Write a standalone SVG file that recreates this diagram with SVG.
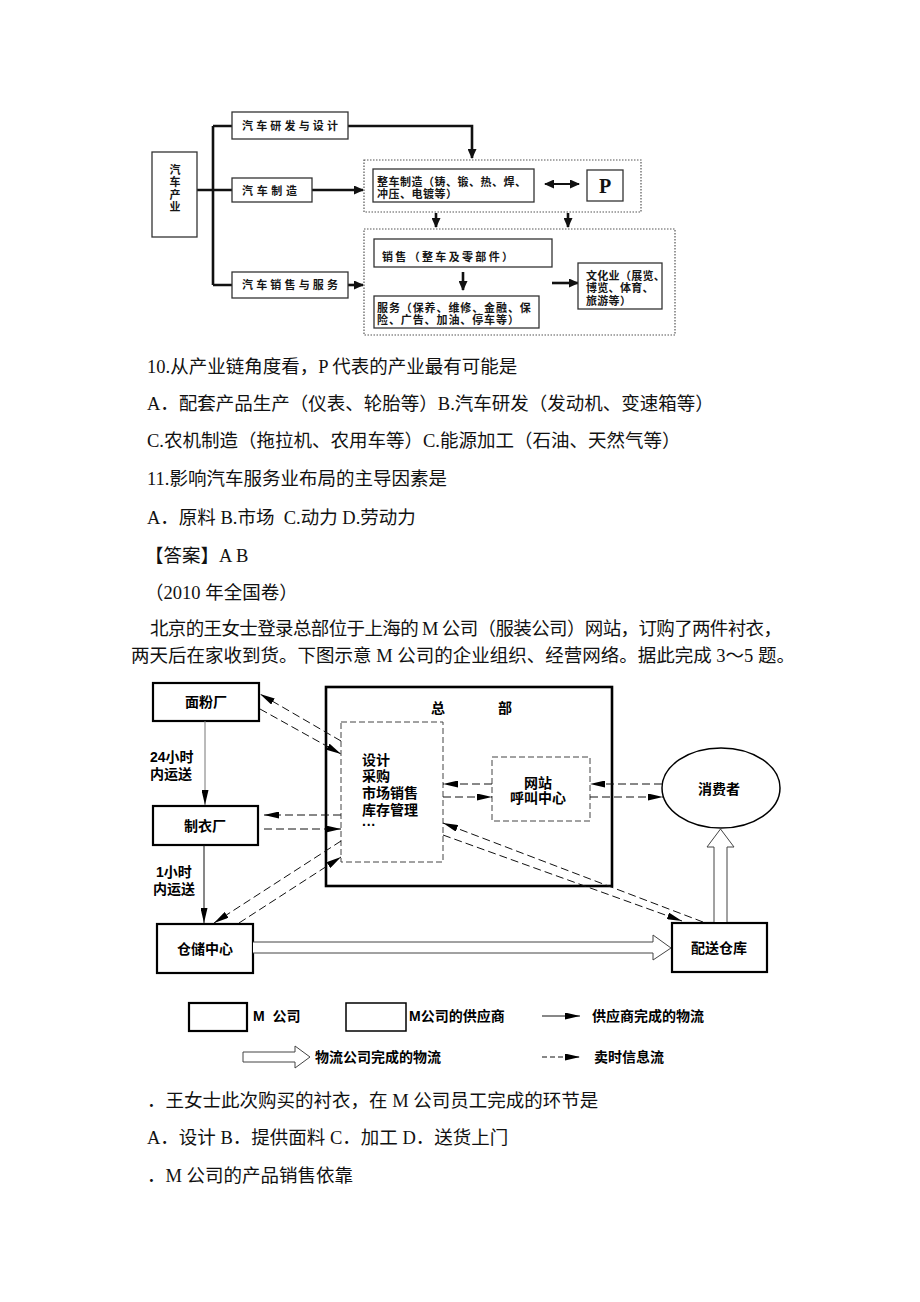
<svg xmlns="http://www.w3.org/2000/svg" width="920" height="1302" viewBox="0 0 920 1302">
<style>
.body{font-family:"Liberation Serif","Noto Sans CJK SC",serif;font-size:18.5px;fill:#111}
.t1{font-family:"Liberation Sans","Noto Sans CJK SC",sans-serif;font-weight:bold;font-size:11px;fill:#161616}
.t2{font-family:"Liberation Sans","Noto Sans CJK SC",sans-serif;font-weight:bold;font-size:14px;fill:#000}
.box1{fill:#fff;stroke:#333;stroke-width:1.3}
.dot1{fill:none;stroke:#555;stroke-width:1.2;stroke-dasharray:1.5 1.5}
.thick{fill:none;stroke:#111;stroke-width:2.6}
.box2{fill:#fff;stroke:#000;stroke-width:2.2}
.dash{fill:none;stroke:#111;stroke-width:1;stroke-dasharray:8 4}
.thin{fill:none;stroke:#111;stroke-width:1}
.open{fill:#fff;stroke:#444;stroke-width:1}
</style>
<defs>
<marker id="ah" markerUnits="userSpaceOnUse" markerWidth="10" markerHeight="9" refX="9" refY="4.5" orient="auto"><path d="M0,0 L10,4.5 L0,9 z" fill="#111"/></marker>
<marker id="ah0" markerUnits="userSpaceOnUse" markerWidth="10" markerHeight="9" refX="1" refY="4.5" orient="auto"><path d="M10,0 L0,4.5 L10,9 z" fill="#111"/></marker>
<marker id="ad" markerUnits="userSpaceOnUse" markerWidth="15" markerHeight="7" refX="15" refY="3.5" orient="auto"><path d="M0,0 L15,3.5 L0,7 z" fill="#000"/></marker>
</defs>
<rect width="920" height="1302" fill="#fff"/>

<!-- top diagram -->
<g id="top-connectors">
<path class="thick" d="M213,126 V285 M213,126 H232 M197,190 H232 M213,285 H232"/>
<path class="thick" d="M348,126 H472 V158" marker-end="url(#ah)"/>
<path class="thick" d="M312,190 H363" marker-end="url(#ah)"/>
<path class="thick" d="M348,285 H363" marker-end="url(#ah)"/>
<path class="thick" d="M545,184 H579" marker-start="url(#ah0)" marker-end="url(#ah)" style="stroke-width:2"/>
<path class="thick" d="M436,213 V227" marker-end="url(#ah)"/>
<path class="thick" d="M568,213 V227" marker-end="url(#ah)"/>
<path class="thick" d="M463,272 V290" marker-end="url(#ah)"/>
<path class="thick" d="M552,283 H578" marker-end="url(#ah)"/>
</g>
<g id="n-industry"><rect class="box1" x="152" y="152" width="45" height="85"/>
<text class="t1" x="174" y="164" style="writing-mode:vertical-rl;letter-spacing:1.5px">汽车产业</text></g>
<g id="n-rd"><rect class="box1" x="232" y="112" width="116" height="27"/><text class="t1" x="242" y="130" textLength="96" font-size="12">汽车研发与设计</text></g>
<g id="n-mfg"><rect class="box1" x="232" y="178" width="80" height="24"/><text class="t1" x="242" y="195" textLength="55" font-size="12">汽车制造</text></g>
<g id="n-sales"><rect class="box1" x="232" y="272" width="116" height="26"/><text class="t1" x="242" y="289" textLength="96" font-size="12">汽车销售与服务</text></g>
<g id="g-mfg"><rect class="dot1" x="364" y="160" width="277" height="52"/></g>
<g id="n-whole"><rect class="box1" x="373" y="169" width="161" height="33"/><text class="t1" style="letter-spacing:0.5px"><tspan x="377" y="185.5">整车制造（铸、锻、热、焊、</tspan><tspan x="377" y="198">冲压、电镀等）</tspan></text></g>
<g id="n-p"><rect class="box1" x="587" y="170" width="36" height="31"/><text x="605" y="193" text-anchor="middle" font-family="Liberation Serif,serif" font-weight="bold" font-size="20" fill="#111">P</text></g>
<g id="g-sales"><rect class="dot1" x="364" y="229" width="311" height="106"/></g>
<g id="n-sell"><rect class="box1" x="374" y="239" width="178" height="28"/><text class="t1" x="382" y="261" textLength="131">销售（整车及零部件）</text></g>
<g id="n-service"><rect class="box1" x="374" y="296" width="165" height="32"/><text class="t1" style="letter-spacing:0.9px"><tspan x="377" y="311.5">服务（保养、维修、金融、保</tspan><tspan x="377" y="324">险、广告、加油、停车等）</tspan></text></g>
<g id="n-culture"><rect class="box1" x="578" y="263" width="84" height="46"/><text class="t1" font-size="10" style="letter-spacing:0.3px"><tspan x="586" y="279.5">文化业（展览、</tspan><tspan x="586" y="292">博览、体育、</tspan><tspan x="586" y="304.5">旅游等）</tspan></text></g>

<!-- body text -->
<g id="text-1">
<text class="body" x="147" y="373">10.从产业链角度看，P 代表的产业最有可能是</text>
<text class="body" x="147" y="410">A．配套产品生产（仪表、轮胎等）B.汽车研发（发动机、变速箱等）</text>
<text class="body" x="147" y="447">C.农机制造（拖拉机、农用车等）C.能源加工（石油、天然气等）</text>
<text class="body" x="147" y="485">11.影响汽车服务业布局的主导因素是</text>
<text class="body" x="147" y="524">A．原料 B.市场&#160; C.动力 D.劳动力</text>
<text class="body" x="145" y="562">【答案】A B</text>
<text class="body" x="145" y="599">（2010 年全国卷）</text>
<text class="body" x="150" y="635" textLength="632" lengthAdjust="spacing">北京的王女士登录总部位于上海的 M 公司（服装公司）网站，订购了两件衬衣，</text>
<text class="body" x="131" y="662">两天后在家收到货。下图示意 M 公司的企业组织、经营网络。据此完成 3～5 题。</text>
</g>

<!-- bottom diagram -->
<g id="n-hq"><rect x="326" y="687" width="286" height="199" fill="#fff" stroke="#000" stroke-width="2.6"/>
<text class="t2" x="438" y="713" text-anchor="middle">总</text><text class="t2" x="505" y="713" text-anchor="middle">部</text></g>
<g id="n-inner"><rect x="341" y="722" width="102" height="140" fill="#fff" stroke="#444" stroke-width="1" stroke-dasharray="6 3"/>
<text class="t2"><tspan x="362" y="765">设计</tspan><tspan x="362" y="781">采购</tspan><tspan x="362" y="798">市场销售</tspan><tspan x="362" y="814.5">库存管理</tspan></text>
<text class="t2" x="362" y="829.5" font-size="11">···</text></g>
<g id="n-web"><rect x="492" y="757" width="98" height="64" fill="#fff" stroke="#444" stroke-width="1" stroke-dasharray="6 3"/>
<text class="t2" text-anchor="middle"><tspan x="538" y="788">网站</tspan><tspan x="538" y="803">呼叫中心</tspan></text></g>
<g id="n-flour"><rect class="box2" x="153" y="683" width="106" height="38"/><text class="t2" x="206" y="707" text-anchor="middle">面粉厂</text></g>
<g id="n-garment"><rect class="box2" x="153" y="806" width="105" height="39"/><text class="t2" x="205" y="831" text-anchor="middle">制衣厂</text></g>
<g id="n-storage"><rect class="box2" x="157" y="924" width="96" height="49"/><text class="t2" x="205" y="954" text-anchor="middle">仓储中心</text></g>
<g id="n-dist"><rect class="box2" x="672" y="923" width="95" height="49"/><text class="t2" x="719" y="953" text-anchor="middle">配送仓库</text></g>
<g id="n-consumer"><ellipse cx="721" cy="788" rx="59" ry="40" fill="#fff" stroke="#000" stroke-width="1.5"/><text class="t2" x="719" y="794" text-anchor="middle">消费者</text></g>
<g id="labels">
<text class="t2"><tspan x="150" y="762">24小时</tspan><tspan x="150" y="779">内运送</tspan></text>
<text class="t2"><tspan x="156" y="877">1小时</tspan><tspan x="153" y="894">内运送</tspan></text>
</g>
<g id="connectors">
<path class="dash" d="M341,741 L260,694" marker-end="url(#ad)"/>
<path class="dash" d="M260,709 L341,754" marker-end="url(#ad)"/>
<path class="dash" d="M341,815 L264,815" marker-end="url(#ad)"/>
<path class="dash" d="M264,829 L341,829" marker-end="url(#ad)"/>
<path class="dash" d="M341,841 L214,923" marker-end="url(#ad)"/>
<path class="dash" d="M239,923 L341,857" marker-end="url(#ad)"/>
<path class="dash" d="M492,784 L443,784" marker-end="url(#ad)"/>
<path class="dash" d="M443,797 L492,797" marker-end="url(#ad)"/>
<path class="dash" d="M662,784 L590,784" marker-end="url(#ad)"/>
<path class="dash" d="M590,797 L663,797" marker-end="url(#ad)"/>
<path class="dash" d="M703,922 L443,823" marker-end="url(#ad)"/>
<path class="dash" d="M443,835 L682,921" marker-end="url(#ad)"/>
<path d="M205,721 V805" stroke="#777" stroke-width="1" marker-end="url(#ad)"/>
<path class="thin" d="M204,845 V923" marker-end="url(#ad)"/>
<path class="open" d="M253,942 H653 V935 L671,948 L653,960 V953 H253"/>
<path class="open" d="M714,922 V847 H707 L720.5,829 L734,847 H727 V922"/>
</g>

<!-- legend -->
<g id="legend">
<rect class="box2" x="189" y="1003" width="58" height="28"/><text class="t2" x="253" y="1021" font-size="13">M&#160; 公司</text>
<rect class="box1" x="346" y="1003" width="60" height="28" style="stroke:#000;stroke-width:1.5"/><text class="t2" x="409" y="1021" font-size="13">M公司的供应商</text>
<path class="thin" d="M542,1016 H580" marker-end="url(#ad)"/><text class="t2" x="592" y="1021">供应商完成的物流</text>
<path class="open" d="M243,1052 H295 V1046 L310,1057 L295,1068 V1062 H243 z"/><text class="t2" x="315" y="1062">物流公司完成的物流</text>
<path class="dash" d="M542,1057 H580" style="stroke-dasharray:5 3" marker-end="url(#ad)"/><text class="t2" x="594" y="1062">卖时信息流</text>
</g>

<g id="text-2">
<text class="body" x="147" y="1107">．王女士此次购买的衬衣，在 M 公司员工完成的环节是</text>
<text class="body" x="147" y="1144">A．设计 B．提供面料 C．加工 D．送货上门</text>
<text class="body" x="147" y="1182">．M 公司的产品销售依靠</text>
</g>
</svg>
